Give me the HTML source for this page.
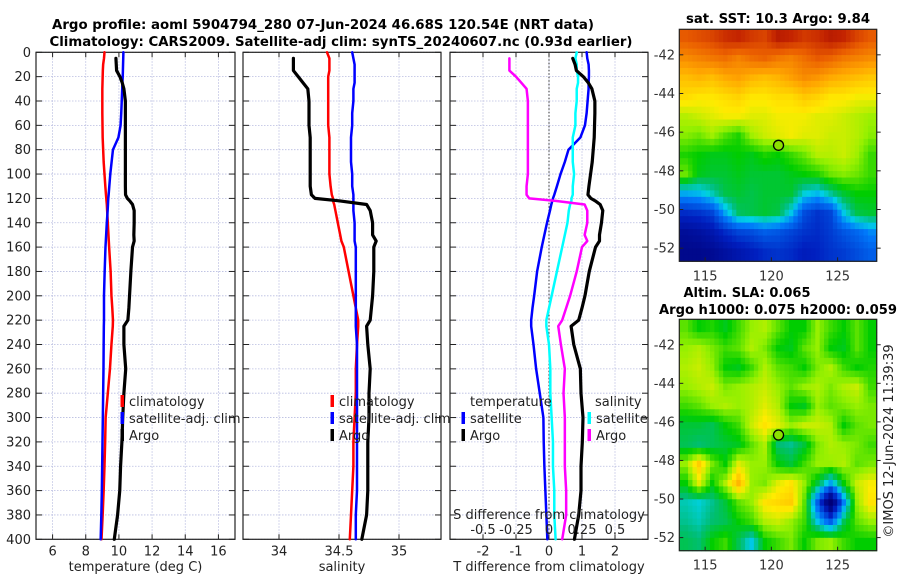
<!DOCTYPE html>
<html><head><meta charset="utf-8">
<style>
html,body{margin:0;padding:0;background:#fff;}
svg{display:block;font-family:"DejaVu Sans","Liberation Sans",sans-serif;}
</style></head>
<body>
<svg id="fig" width="900" height="580" viewBox="0 0 900 580" xmlns="http://www.w3.org/2000/svg">
<g id="titles">
<text x="323" y="29" text-anchor="middle" font-weight="bold" font-size="13" textLength="542" lengthAdjust="spacingAndGlyphs">Argo profile: aoml 5904794_280 07-Jun-2024 46.68S 120.54E (NRT data)</text>
<text x="341" y="46" text-anchor="middle" font-weight="bold" font-size="13" textLength="583" lengthAdjust="spacingAndGlyphs">Climatology: CARS2009. Satellite-adj clim: synTS_20240607.nc (0.93d earlier)</text>
<text x="778" y="23" text-anchor="middle" font-weight="bold" font-size="13" textLength="184" lengthAdjust="spacingAndGlyphs">sat. SST: 10.3 Argo: 9.84</text>
<text x="747" y="297" text-anchor="middle" font-weight="bold" font-size="13" textLength="127" lengthAdjust="spacingAndGlyphs">Altim. SLA: 0.065</text>
<text x="778" y="314" text-anchor="middle" font-weight="bold" font-size="13" textLength="238" lengthAdjust="spacingAndGlyphs">Argo h1000: 0.075 h2000: 0.059</text>
<text transform="translate(893,441) rotate(-90)" text-anchor="middle" font-size="13" fill="#222">©IMOS 12-Jun-2024 11:39:39</text>
</g>
</svg>
<script>
// ---- profile data (common depth grid) ----
const depths   = [0,5,10,15,20,25,30,40,50,60,70,80,90,100,110,117,120,122,125,130,140,150,155,160,180,200,210,220,225,240,260,280,300,320,340,360,380,400];
const climT    = [9.13,9.1,9.05,9.03,9.02,9.01,9.0,9.0,9.0,9.01,9.02,9.05,9.08,9.13,9.18,9.22,9.24,9.25,9.27,9.29,9.33,9.37,9.39,9.41,9.5,9.55,9.6,9.64,9.63,9.55,9.46,9.33,9.2,9.17,9.13,9.08,9.02,8.95];
const satT     = [10.27,10.26,10.25,10.24,10.23,10.21,10.2,10.17,10.14,10.1,9.97,9.64,9.56,9.48,9.42,9.38,9.36,9.35,9.34,9.32,9.27,9.23,9.21,9.19,9.14,9.1,9.1,9.1,9.09,9.08,9.07,9.05,9.03,9.01,8.99,8.97,8.94,8.9];
const argoT    = [null,9.82,9.84,9.86,10.06,10.2,10.3,10.39,10.39,10.39,10.39,10.39,10.39,10.39,10.39,10.4,10.51,10.65,10.82,10.92,10.92,10.9,10.92,10.82,10.72,10.64,10.6,10.54,10.3,10.3,10.41,10.3,10.23,10.18,10.1,10.05,9.92,9.72];
const climS    = [34.40,34.42,34.42,34.42,34.41,34.41,34.41,34.41,34.41,34.41,34.42,34.42,34.42,34.42,34.43,34.44,34.45,34.45,34.46,34.47,34.49,34.51,34.52,34.54,34.58,34.62,34.64,34.66,34.66,34.65,34.64,34.64,34.63,34.62,34.62,34.61,34.6,34.59];
const satS     = [34.61,34.62,34.63,34.63,34.63,34.63,34.62,34.62,34.61,34.61,34.6,34.6,34.6,34.61,34.61,34.62,34.62,34.62,34.62,34.62,34.63,34.63,34.63,34.64,34.64,34.64,34.64,34.64,34.64,34.65,34.65,34.65,34.65,34.65,34.65,34.65,34.64,34.64];
const argoS    = [null,34.12,34.12,34.12,34.16,34.2,34.24,34.25,34.25,34.25,34.26,34.26,34.26,34.26,34.26,34.27,34.3,34.5,34.73,34.76,34.78,34.78,34.81,34.79,34.79,34.78,34.77,34.76,34.73,34.74,34.76,34.75,34.75,34.74,34.74,34.74,34.73,34.69];
const depthTicks = [0,20,40,60,80,100,120,140,160,180,200,220,240,260,280,300,320,340,360,380,400];
const tTicks   = [6,8,10,12,14,16];
const sTicks   = [34,34.5,35];
const dTTicks  = [-2,-1,0,1,2];
const dSTicks  = [-0.5,-0.25,0,0.25,0.5];
const dSLabels = ["-0.5","-0.25","0","0.25","0.5"];
// ---- map data (rows lat -41..-52, cols lon 113.5..127.5) ----
const mapLons = [113.5,114.5,115.5,116.5,117.5,118.5,119.5,120.5,121.5,122.5,123.5,124.5,125.5,126.5,127.5];
const mapLats = [-41,-42,-43,-44,-45,-46,-47,-48,-49,-50,-51,-52];
const sstGrid = [
[12.0,12.1,12.2,12.4,12.5,12.3,12.2,12.6,12.5,12.3,12.4,12.6,12.5,12.2,12.0],
[11.5,11.6,11.7,11.8,11.6,11.8,11.9,11.7,11.6,11.8,12.0,11.9,11.7,11.6,11.5],
[11.0,11.1,11.0,11.2,11.3,11.1,11.0,11.1,11.3,11.5,11.4,11.2,11.1,11.0,10.9],
[10.7,10.6,10.6,10.7,10.8,10.6,10.6,10.7,10.7,10.9,10.8,10.6,10.6,10.5,10.5],
[10.2,10.3,10.4,10.5,10.5,10.4,10.4,10.5,10.5,10.5,10.4,10.4,10.3,10.2,10.1],
[10.0,9.9,10.1,9.8,9.6,10.1,10.3,10.4,10.5,10.4,10.4,10.3,10.3,10.2,10.0],
[9.6,9.5,9.4,9.4,9.5,9.4,9.6,9.5,9.7,9.9,10.2,10.2,10.3,10.1,9.7],
[9.9,9.4,9.3,9.3,9.4,9.3,9.3,9.3,9.4,9.5,9.6,9.9,10.0,9.9,9.7],
[8.4,8.5,8.8,9.2,9.3,9.2,9.3,9.3,9.3,8.7,8.5,8.9,9.3,9.5,9.5],
[7.2,7.3,7.5,8.4,9.1,9.2,9.3,9.2,8.6,7.6,7.3,7.5,8.6,9.2,9.3],
[6.5,6.6,6.8,7.2,7.5,7.6,7.8,7.7,7.5,7.3,7.2,7.4,7.7,7.9,8.2],
[6.3,6.3,6.4,6.6,6.8,7.0,7.2,7.3,7.2,7.0,7.1,7.3,7.4,7.6,7.8]];
const slaGrid = [
[0.03,0.0,0.01,-0.01,0.02,0.05,0.06,0.03,0.0,0.0,0.05,0.02,0.0,0.03,0.0],
[0.05,0.06,0.04,0.02,0.03,0.06,0.04,0.0,-0.01,0.03,0.05,0.0,-0.01,0.03,0.0],
[0.06,0.07,0.05,0.0,-0.01,0.02,0.06,0.03,0.02,0.0,0.04,0.06,0.02,0.0,0.01],
[0.05,0.06,0.07,0.04,0.05,0.06,0.07,0.05,0.03,0.05,0.06,0.04,0.06,0.07,0.02],
[0.02,0.03,0.05,0.06,0.05,0.06,0.08,0.06,0.0,-0.01,0.05,0.03,0.04,0.05,0.04],
[-0.02,-0.02,-0.03,0.0,0.02,0.07,0.1,0.08,0.05,0.07,0.07,0.06,0.0,0.03,0.04],
[-0.03,-0.04,-0.03,-0.02,-0.01,0.03,0.06,-0.04,-0.05,-0.02,0.04,0.06,0.05,0.04,0.02],
[0.05,0.12,0.04,0.0,0.08,0.05,0.05,0.0,-0.02,0.02,0.05,0.05,0.06,0.03,0.04],
[0.0,0.08,0.0,0.06,0.14,0.05,0.04,0.08,0.1,0.05,-0.02,-0.1,0.0,0.07,0.09],
[-0.06,-0.07,-0.05,-0.02,0.03,0.05,0.1,0.11,0.12,0.03,-0.15,-0.35,-0.12,0.05,0.1],
[-0.05,-0.06,-0.04,-0.03,0.0,0.02,0.06,0.07,0.05,0.02,-0.08,-0.15,-0.03,0.03,0.05],
[-0.03,-0.04,0.0,0.02,-0.03,-0.08,0.0,0.02,0.04,0.0,0.04,0.05,0.02,0.0,0.0]];
const mapLatTicks = [-42,-44,-46,-48,-50,-52];
const mapLonTicks = [115,120,125];
const argoLon = 120.54, argoLat = -46.68;

const NS="http://www.w3.org/2000/svg";
const svg=document.getElementById('fig');
function mk(tag,attrs,parent){const e=document.createElementNS(NS,tag);for(const k in attrs)e.setAttribute(k,attrs[k]);(parent||svg).appendChild(e);return e;}

const PT=52.3, PB=539.3;
function yD(d){return PT+(d/400)*(PB-PT);}
const panels=[
 {x0:36,x1:235,lo:5,hi:17,name:'temperature-panel'},
 {x0:243,x1:441,lo:33.7,hi:35.35,name:'salinity-panel'},
 {x0:450,x1:648,lo:-3,hi:3,name:'difference-panel'}];
function xf(p){return v=>p.x0+(v-p.lo)/(p.hi-p.lo)*(p.x1-p.x0);}
const xT=xf(panels[0]), xS=xf(panels[1]), xDT=xf(panels[2]);
function xDS(v){return xDT(v*4);}

function drawPanel(p,ticks,xfun,labels,title,yLabels){
  const g=mk('g',{});
  
  
  ticks.forEach((t,i)=>{
    const x=xfun(t);
    const gl=mk('line',{x1:x,x2:x,y1:PT,y2:PB,stroke:'#b8bce0','stroke-width':0.8,'stroke-dasharray':'1.5,1.5'},g);
    
    
    mk('line',{x1:x,x2:x,y1:PB,y2:PB-5,stroke:'#222','stroke-width':1},g);
    mk('line',{x1:x,x2:x,y1:PT,y2:PT+5,stroke:'#222','stroke-width':1},g);
    const tl=mk('text',{x:x,y:PB+16,'text-anchor':'middle','font-size':13,fill:'#222'},g);
    tl.textContent=labels[i];
    
    
  });
  depthTicks.forEach(d=>{
    const y=yD(d);
    const gl=mk('line',{x1:p.x0,x2:p.x1,y1:y,y2:y,stroke:'#b8bce0','stroke-width':0.8,'stroke-dasharray':'1.5,1.5'},g);
    
    
    mk('line',{x1:p.x0,x2:p.x0+6,y1:y,y2:y,stroke:'#222','stroke-width':1},g);
    mk('line',{x1:p.x1,x2:p.x1-6,y1:y,y2:y,stroke:'#222','stroke-width':1},g);
    if(yLabels){
      const tl=mk('text',{x:31,y:y+4.5,'text-anchor':'end','font-size':13,fill:'#222'},g);
      tl.textContent=d;
      
      
    }
  });
  const fr=mk('rect',{x:p.x0,y:PT,width:p.x1-p.x0,height:PB-PT,fill:'none',stroke:'#222','stroke-width':1.2},g);
  
  
  const at=mk('text',{x:(p.x0+p.x1)/2,y:571,'text-anchor':'middle','font-size':13,fill:'#222'},g);
  at.textContent=title;
  
  
  return g;
}
drawPanel(panels[0],tTicks,xT,tTicks.map(String),'temperature (deg C)',true);
drawPanel(panels[1],sTicks,xS,sTicks.map(String),'salinity',false);
drawPanel(panels[2],dTTicks,xDT,dTTicks.map(String),'T difference from climatology',false);
const zl=mk('line',{x1:xDT(0),x2:xDT(0),y1:PT,y2:PB,stroke:'#333','stroke-width':1,'stroke-dasharray':'1.5,2'});



function line(vals,xfun,color,w,name){
  let d='';let pen=false;
  vals.forEach((v,i)=>{
    if(v===null||v===undefined){pen=false;return;}
    d+=(pen?'L':'M')+xfun(v).toFixed(2)+','+yD(depths[i]).toFixed(2);pen=true;
  });
  const p=mk('path',{d:d,fill:'none',stroke:color,'stroke-width':w,'stroke-linejoin':'round','stroke-linecap':'round'});
  
  
}
line(climT,xT,'#ff0000',2.5,'climatology-temperature-line');
line(satT,xT,'#0000ff',2.5,'satellite-temperature-line');
line(argoT,xT,'#000',3.2,'argo-temperature-line');
line(climS,xS,'#ff0000',2.5,'climatology-salinity-line');
line(satS,xS,'#0000ff',2.5,'satellite-salinity-line');
line(argoS,xS,'#000',3.2,'argo-salinity-line');
const dSatT=satT.map((v,i)=>v-climT[i]);
const dArgoT=argoT.map((v,i)=>v===null?null:v-climT[i]);
const dSatS=satS.map((v,i)=>v-climS[i]);
const dArgoS=argoS.map((v,i)=>v===null?null:v-climS[i]);
line(dSatT,xDT,'#0000ff',2.5,'satellite-t-diff-line');
line(dSatS,xDS,'#00ffff',2.5,'satellite-s-diff-line');
line(dArgoS,xDS,'#ff00ff',2.5,'argo-s-diff-line');
line(dArgoT,xDT,'#000',3.2,'argo-t-diff-line');

// legends
function legend(x,y,color,label,name){
  const g=mk('g',{});
  
  
  mk('rect',{x:x-1.5,y:y-11,width:3.5,height:12,fill:color},g);
  const t=mk('text',{x:x+7,y:y,'font-size':13,fill:'#222'},g);
  t.textContent=label;
}
legend(122,406,'#ff0000','climatology','legend-climatology');
legend(122,423,'#0000ff','satellite-adj. clim','legend-satellite');
legend(122,440,'#000','Argo','legend-argo');
legend(332,406,'#ff0000','climatology','legend-climatology-s');
legend(332,423,'#0000ff','satellite-adj. clim','legend-satellite-s');
legend(332,440,'#000','Argo','legend-argo-s');
const lt=mk('text',{x:470,y:406,'font-size':13,fill:'#222'});lt.textContent='temperature';


legend(463,423,'#0000ff','satellite','legend-t-satellite');
legend(463,440,'#000','Argo','legend-t-argo');
const ls=mk('text',{x:595,y:406,'font-size':13,fill:'#222'});ls.textContent='salinity';


legend(589,423,'#00ffff','satellite','legend-s-satellite');
legend(589,440,'#ff00ff','Argo','legend-s-argo');
const sd=mk('text',{x:549,y:519,'text-anchor':'middle','font-size':13,fill:'#222'});
sd.textContent='S difference from climatology';


dSTicks.forEach((t,i)=>{
  const e=mk('text',{x:xDS(t),y:534,'text-anchor':'middle','font-size':13,fill:'#222'});
  e.textContent=dSLabels[i];
  
  
});

// maps
const cmapStops=[[0,0,0,120],[0.15,0,30,190],[0.3,0,120,250],[0.38,0,210,230],[0.43,0,190,120],[0.5,0,205,0],[0.58,150,240,0],[0.65,255,235,0],[0.75,255,165,0],[0.85,235,95,0],[0.93,195,35,0],[1,140,0,0]];
function cmap(t){
  t=Math.max(0,Math.min(1,t));
  for(let i=1;i<cmapStops.length;i++){
    const a=cmapStops[i-1],b=cmapStops[i];
    if(t<=b[0]){const f=(t-a[0])/(b[0]-a[0]);
      return 'rgb('+Math.round(a[1]+f*(b[1]-a[1]))+','+Math.round(a[2]+f*(b[2]-a[2]))+','+Math.round(a[3]+f*(b[3]-a[3]))+')';}
  }
  return 'rgb(140,0,0)';
}
function sample(grid,fr,fc){
  const nr=grid.length,nc=grid[0].length;
  fr=Math.max(0,Math.min(nr-1,fr));fc=Math.max(0,Math.min(nc-1,fc));
  const r0=Math.floor(fr),c0=Math.floor(fc),r1=Math.min(nr-1,r0+1),c1=Math.min(nc-1,c0+1);
  const dr=fr-r0,dc=fc-c0;
  return grid[r0][c0]*(1-dr)*(1-dc)+grid[r0][c1]*(1-dr)*dc+grid[r1][c0]*dr*(1-dc)+grid[r1][c1]*dr*dc;
}
function drawMap(grid,top,bot,vmin,vmax,name){
  const L=679.3,R=876.7;
  const lonLo=113.05,lonHi=127.95,latHi=-40.68,latLo=-52.68;
  const xm=lon=>L+(lon-lonLo)/(lonHi-lonLo)*(R-L);
  const ym=lat=>top+(latHi-lat)/(latHi-latLo)*(bot-top);
  const g=mk('g',{});
  
  
  const SUB=3;
  const nc=mapLons.length*SUB, nr=mapLats.length*SUB;
  const cw=(R-L)/nc, ch=(bot-top)/nr;
  for(let r=0;r<nr;r++)for(let c=0;c<nc;c++){
    const v=sample(grid,(r+0.5)/SUB-0.5,(c+0.5)/SUB-0.5);
    const cell=mk('rect',{x:(L+c*cw).toFixed(2),y:(top+r*ch).toFixed(2),width:(cw+0.5).toFixed(2),height:(ch+0.5).toFixed(2),fill:cmap((v-vmin)/(vmax-vmin))},g);
    
    
  }
  mk('rect',{x:L,y:top,width:R-L,height:bot-top,fill:'none',stroke:'#222','stroke-width':1.2},g);
  mapLatTicks.forEach(t=>{
    const y=ym(t);
    mk('line',{x1:L,x2:L+4,y1:y,y2:y,stroke:'#222'},g);
    mk('line',{x1:R,x2:R+4,y1:y,y2:y,stroke:'#222'},g);
    const e=mk('text',{x:675,y:y+4.5,'text-anchor':'end','font-size':13,fill:'#333'},g);
    e.textContent=t;
    
    
  });
  mapLonTicks.forEach(t=>{
    const x=xm(t);
    mk('line',{x1:x,x2:x,y1:bot,y2:bot-4,stroke:'#222'},g);
    const e=mk('text',{x:x,y:bot+19,'text-anchor':'middle','font-size':13,fill:'#333'},g);
    e.textContent=t;
    
    
  });
  const m=mk('circle',{cx:xm(argoLon),cy:ym(argoLat),r:5,fill:'#8ce000',stroke:'#000','stroke-width':1.3},g);
  
  
}
drawMap(sstGrid,29.3,261.3,6,13,'sst-map');
drawMap(slaGrid,319.3,550.7,-0.31,0.31,'sla-map');
</script>
</body></html>
